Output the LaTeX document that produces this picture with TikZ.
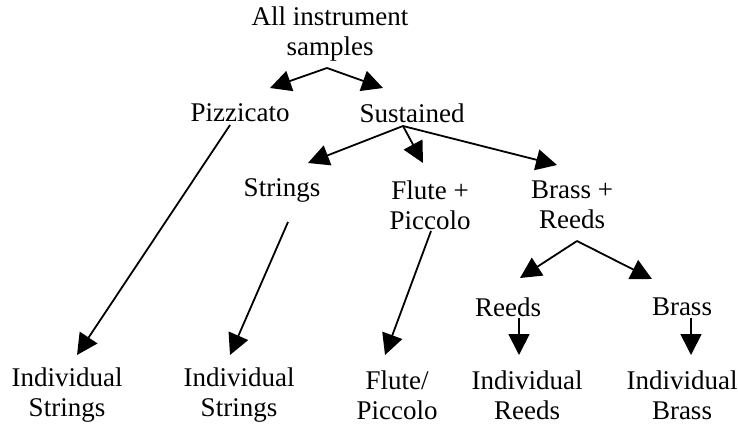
\documentclass[tikz,border=0pt]{standalone}
\usepackage{fontspec}
\setmainfont{Liberation Serif}
\usetikzlibrary{arrows.meta}
\tikzset{
  lbl/.style={inner sep=0pt, align=center, font=\fontsize{27}{30}\selectfont},
  arr/.style={line width=1.8pt, -{Triangle[length=21pt,width=21pt]}}
}
\begin{document}
\begin{tikzpicture}[x=1pt,y=-1pt]
\useasboundingbox (0,0) rectangle (738,425);
% nodes
\node[lbl] (all) at (330,34) {All instrument\\samples};
\node[lbl] (piz) at (240,113) {Pizzicato};
\node[lbl] (sus) at (412,113) {Sustained};
\node[lbl] (str) at (282,190) {Strings};
\node[lbl] (flu) at (430,205) {Flute +\\Piccolo};
\node[lbl] (brr) at (572,205) {Brass +\\Reeds};
\node[lbl] (ree) at (508,307) {Reeds};
\node[lbl] (bra) at (682,307) {Brass};
\node[lbl] (is1) at (67,395) {Individual\\Strings};
\node[lbl] (is2) at (239,395) {Individual\\Strings};
\node[lbl] (fp) at (397,395) {Flute/\\Piccolo};
\node[lbl] (ir) at (527,395) {Individual\\Reeds};
\node[lbl] (ib) at (682,395) {Individual\\Brass};
% connector end points
\coordinate (allS) at (327,68);
\coordinate (pizT) at (270,88);
\coordinate (susT) at (383,88);
\coordinate (susS) at (403,126);
\coordinate (strT) at (308,163);
\coordinate (fluT) at (423,163);
\coordinate (brrT) at (557,165);
\coordinate (pizS) at (230,125);
\coordinate (is1T) at (77,355);
\coordinate (strS) at (288,222);
\coordinate (is2T) at (230,355);
\coordinate (fluS) at (431,231);
\coordinate (fpT) at (385,355);
\coordinate (brrS) at (577,241);
\coordinate (reeT) at (520,278);
\coordinate (braT) at (652,279);
\coordinate (reeS) at (519,318);
\coordinate (irT) at (519,355);
\coordinate (braS) at (691,318);
\coordinate (ibT) at (691,355);
% connectors
\draw[arr] (allS) -- (pizT);
\draw[arr] (allS) -- (susT);
\draw[arr] (susS) -- (strT);
\draw[arr] (susS) -- (fluT);
\draw[arr] (susS) -- (brrT);
\draw[arr] (pizS) -- (is1T);
\draw[arr] (strS) -- (is2T);
\draw[arr] (fluS) -- (fpT);
\draw[arr] (brrS) -- (reeT);
\draw[arr] (brrS) -- (braT);
\draw[arr] (reeS) -- (irT);
\draw[arr] (braS) -- (ibT);
\end{tikzpicture}
\end{document}
